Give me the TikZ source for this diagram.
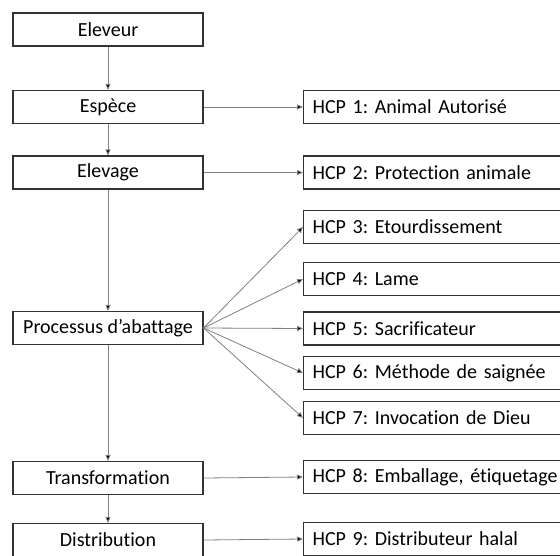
\documentclass[tikz,border=0pt]{standalone}
\usepackage{fontspec}
\setmainfont{Carlito}[Ligatures=NoCommon]
\frenchspacing
\usetikzlibrary{arrows.meta}
\begin{document}
\begin{tikzpicture}[x=1pt,y=-1pt,
  lbox/.style={draw=black!80,line width=1.1pt,minimum width=190pt,minimum height=33pt,inner sep=0pt,font=\fontsize{20}{24}\selectfont},
  rbox/.style={draw=black!80,line width=1.1pt,minimum width=290pt,minimum height=33pt,inner sep=0pt,inner xsep=9pt,text width=272pt,align=left,anchor=west,font=\fontsize{20}{24}\selectfont},
  conn/.style={draw=black!50,line width=0.8pt,-{Triangle[length=6pt,width=5pt,fill=black]}}]
\useasboundingbox (0,0) rectangle (560,555);
\clip (0,0) rectangle (560,555);
\node[lbox] (eleveur) at (108,29.5) {Eleveur};
\node[lbox] (espece) at (108,107) {Espèce};
\node[lbox] (elevage) at (108,172.5) {Elevage};
\node[lbox] (proc) at (108,328) {Processus d’abattage};
\node[lbox] (transf) at (108,478) {Transformation};
\node[lbox] (distr) at (108,540) {Distribution};
\node[rbox] (h1) at (303,107) {HCP 1: Animal Autorisé};
\node[rbox] (h2) at (303,172.5) {HCP 2: Protection animale};
\node[rbox] (h3) at (303,227) {HCP 3: Etourdissement};
\node[rbox] (h4) at (303,279) {HCP 4: Lame};
\node[rbox] (h5) at (303,328.5) {HCP 5: Sacrificateur};
\node[rbox] (h6) at (303,373) {HCP 6: Méthode de saignée};
\node[rbox] (h7) at (303,418) {HCP 7: Invocation de Dieu};
\node[rbox] (h8) at (303,477) {HCP 8: Emballage, étiquetage};
\node[rbox] (h9) at (303,539) {HCP 9: Distributeur halal};
\draw[conn] (eleveur) -- (espece);
\draw[conn] (espece) -- (elevage);
\draw[conn] (elevage) -- (proc);
\draw[conn] (proc) -- (transf);
\draw[conn] (transf) -- (distr);
\draw[conn] (espece.east) -- (h1.west);
\draw[conn] (elevage.east) -- (h2.west);
\draw[conn] (proc.east) -- (h3.west);
\draw[conn] (proc.east) -- (h4.west);
\draw[conn] (proc.east) -- (h5.west);
\draw[conn] (proc.east) -- (h6.west);
\draw[conn] (proc.east) -- (h7.west);
\draw[conn] (transf.east) -- (h8.west);
\draw[conn] (distr.east) -- (h9.west);
\end{tikzpicture}
\end{document}
